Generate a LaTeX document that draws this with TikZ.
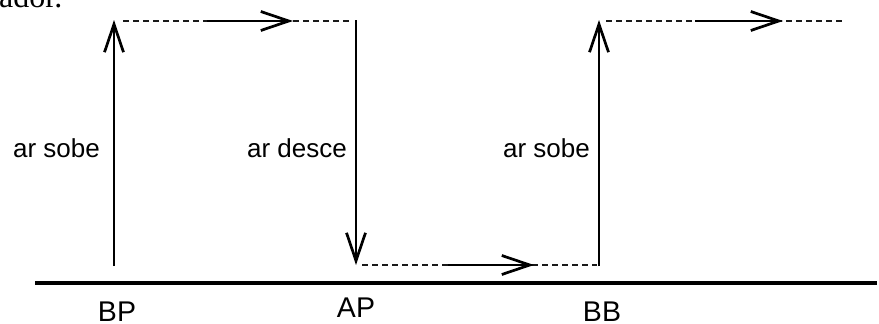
\documentclass[tikz,border=0pt]{standalone}
\usepackage{fontspec}
\setmainfont{Liberation Sans}
\newfontfamily\serifpart{Liberation Serif}
\usetikzlibrary{arrows.meta,positioning}

\begin{document}
\begin{tikzpicture}[x=1pt,y=-1pt,
  flow/.style={line width=2.7pt,-{Straight Barb[length=28pt,width=19pt]}},
  trace/.style={line width=1.1pt,dash pattern=on 6pt off 4pt,black!90},
  lbl/.style={font=\fontsize{26}{30}\selectfont,inner sep=0pt,anchor=base east},
  site/.style={font=\fontsize{28.5}{32}\selectfont,inner sep=0pt,anchor=base}]
\useasboundingbox (0,0) rectangle (879,324);
\node[anchor=base west,inner sep=0pt,font=\serifpart\fontsize{32}{36}\selectfont] (cap) at (-1,7) {ador.};
% chao
\coordinate (g0) at (35,283); \coordinate (g1) at (877,283);
\draw[line width=3.8pt] (g0)--(g1);
% pontos
\coordinate (bp) at (114,266); \coordinate (bpt) at (114,20);
\coordinate (ap) at (356,265); \coordinate (apt) at (356,20);
\coordinate (bb) at (599,266); \coordinate (bbt) at (599,20);
\coordinate (t0) at (123,21); \coordinate (t1) at (352,21);
\coordinate (m0) at (207,21); \coordinate (m1) at (293,21);
\coordinate (b0) at (362,265); \coordinate (b1) at (597,265);
\coordinate (n0) at (448,265); \coordinate (n1) at (534,265);
\coordinate (r0) at (606,21); \coordinate (r1) at (843,21);
\coordinate (s0) at (695,21); \coordinate (s1) at (783,21);
\draw[flow] (bp)--(bpt);
\draw[trace] (t0)--(t1); \draw[flow] (m0)--(m1);
\draw[flow] (apt)--(ap);
\draw[trace] (b0)--(b1); \draw[flow] (n0)--(n1);
\draw[flow] (bb)--(bbt);
\draw[trace] (r0)--(r1); \draw[flow] (s0)--(s1);
% textos
\node[lbl] (sobe1) at (100,157) {ar sobe};
\node[lbl] (desce) at (347,157) {ar desce};
\node[lbl] (sobe2) at (590,157) {ar sobe};
\node[site] (lbp) at (117,321) {BP};
\node[site] (lap) at (356,317) {AP};
\node[site] (lbb) at (602,321) {BB};
\end{tikzpicture}
\end{document}
